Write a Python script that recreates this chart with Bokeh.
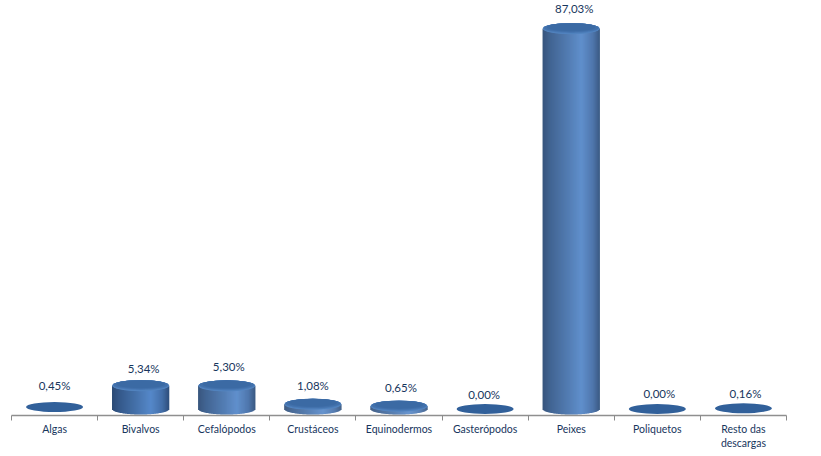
import math
from bokeh.embed import file_html
from bokeh.resources import INLINE
from bokeh.models import Range1d, FixedTicker
from bokeh.plotting import figure
from bokeh.core.properties import value

categories = ["Algas", "Bivalvos", "Cefalópodos", "Crustáceos", "Equinodermos",
              "Gasterópodos", "Peixes", "Poliquetos", "Resto das\ndescargas"]
shares = [0.45, 5.34, 5.30, 1.08, 0.65, 0.00, 87.03, 0.00, 0.16]
share_labels = ["0,45%", "5,34%", "5,30%", "1,08%", "0,65%", "0,00%", "87,03%", "0,00%", "0,16%"]

W, H = 813, 450
LEFT, RIGHT, AXIS_Y = 11, 786, 414.5
PX_X = (RIGHT - LEFT) / 9
PX_Y = 4.37
BASE_PX = 6.0
label_dx = [0, 3, 2, 0, 2, -1, 3, 2, 2]
label_dy = [-21.5, -17, -19, -18.8, -18.7, -14.5, -20, -15.5, -15]

axis_value = -BASE_PX / PX_Y
y_end = axis_value + AXIS_Y / PX_Y
y_start = y_end - H / PX_Y
x_start = -0.5 - LEFT / PX_X
x_end = x_start + W / PX_X

p = figure(width=W, height=H, output_backend="svg", toolbar_location=None,
           x_range=Range1d(x_start, x_end), y_range=Range1d(y_start, y_end),
           min_border_left=0, min_border_right=0, min_border_top=0, min_border_bottom=0,
           outline_line_color=None, background_fill_color="white",
           border_fill_color="white")
p.margin = (0, 0, 0, 0)
p.grid.visible = False
p.yaxis.visible = False
ax = p.xaxis[0]
ax.fixed_location = axis_value
ax.bounds = (-0.5, 8.5)
ax.ticker = FixedTicker(ticks=list(range(9)), minor_ticks=[i - 0.5 for i in range(10)])
ax.major_label_overrides = {i: c for i, c in enumerate(categories)}
ax.major_tick_line_color = None
ax.major_tick_in = 0
ax.major_tick_out = 0
ax.minor_tick_line_color = "#8a8a8a"
ax.minor_tick_out = 5
ax.minor_tick_in = 0
ax.axis_line_color = "#8f8f8f"
ax.axis_line_width = 1.5
ax.major_label_text_font = "Lato"
ax.major_label_text_font_size = "10.5px"
ax.major_label_text_color = "#17365d"
ax.major_label_standoff = 3

HALF_W = 28.5
RY = 5.5


def lerp(a, b, t):
    return tuple(a[k] + (b[k] - a[k]) * t for k in range(3))


def body_color(t):
    stops = [(0.0, (36, 68, 112)), (0.12, (46, 84, 134)), (0.45, (66, 112, 172)),
             (0.68, (81, 133, 200)), (0.88, (62, 106, 166)), (1.0, (40, 74, 120))]
    for (t0, c0), (t1, c1) in zip(stops, stops[1:]):
        if t <= t1:
            c = lerp(c0, c1, (t - t0) / (t1 - t0))
            return "#%02x%02x%02x" % tuple(int(v) for v in c)
    return "#284a78"


xs, tops, bottoms, cols = [], [], [], []
n = int(HALF_W * 2)
for i, v in enumerate(shares):
    if v < 0.5:
        continue
    for k in range(n):
        u = (k + 0.5) / n
        d = 2 * u - 1
        xs.append(i + (u - 0.5) * 2 * HALF_W / PX_X)
        tops.append(v)
        bottoms.append(-RY / PX_Y * math.sqrt(max(0.0, 1 - d * d)))
        cols.append(body_color(u))
p.vbar(x=xs, top=tops, bottom=bottoms, width=1.25 / PX_X, fill_color=cols, line_color=None)

# top faces: layered ellipses, soft light rim at the front, darker towards the back
layers = [(0.0, 1.0, "#5486c2"), (0.5, 0.99, "#4f80bc"), (1.2, 0.98, "#4878b4"),
          (2.0, 0.95, "#4170ab"), (3.0, 0.85, "#3b6aa4")]
for i, v in enumerate(shares):
    if v < 0.5:
        p.ellipse(x=[i], y=[v], width=2 * HALF_W / PX_X, height=10 / PX_Y,
                  fill_color="#31609a", line_color=None)
        continue
    for shift, scale, col in layers:
        p.ellipse(x=[i], y=[v + shift / PX_Y * 0.5], width=2 * HALF_W * scale / PX_X,
                  height=(2 * RY - shift) / PX_Y, fill_color=col, line_color=None)

p.text(x=list(range(9)), y=shares, text=share_labels,
       x_offset=label_dx, y_offset=label_dy,
       text_font=value("Lato"), text_font_size={"value": "11.5px"},
       text_color="#17365d", text_align="center", text_baseline="middle")

open("out.html", "w").write(file_html(p, INLINE))
